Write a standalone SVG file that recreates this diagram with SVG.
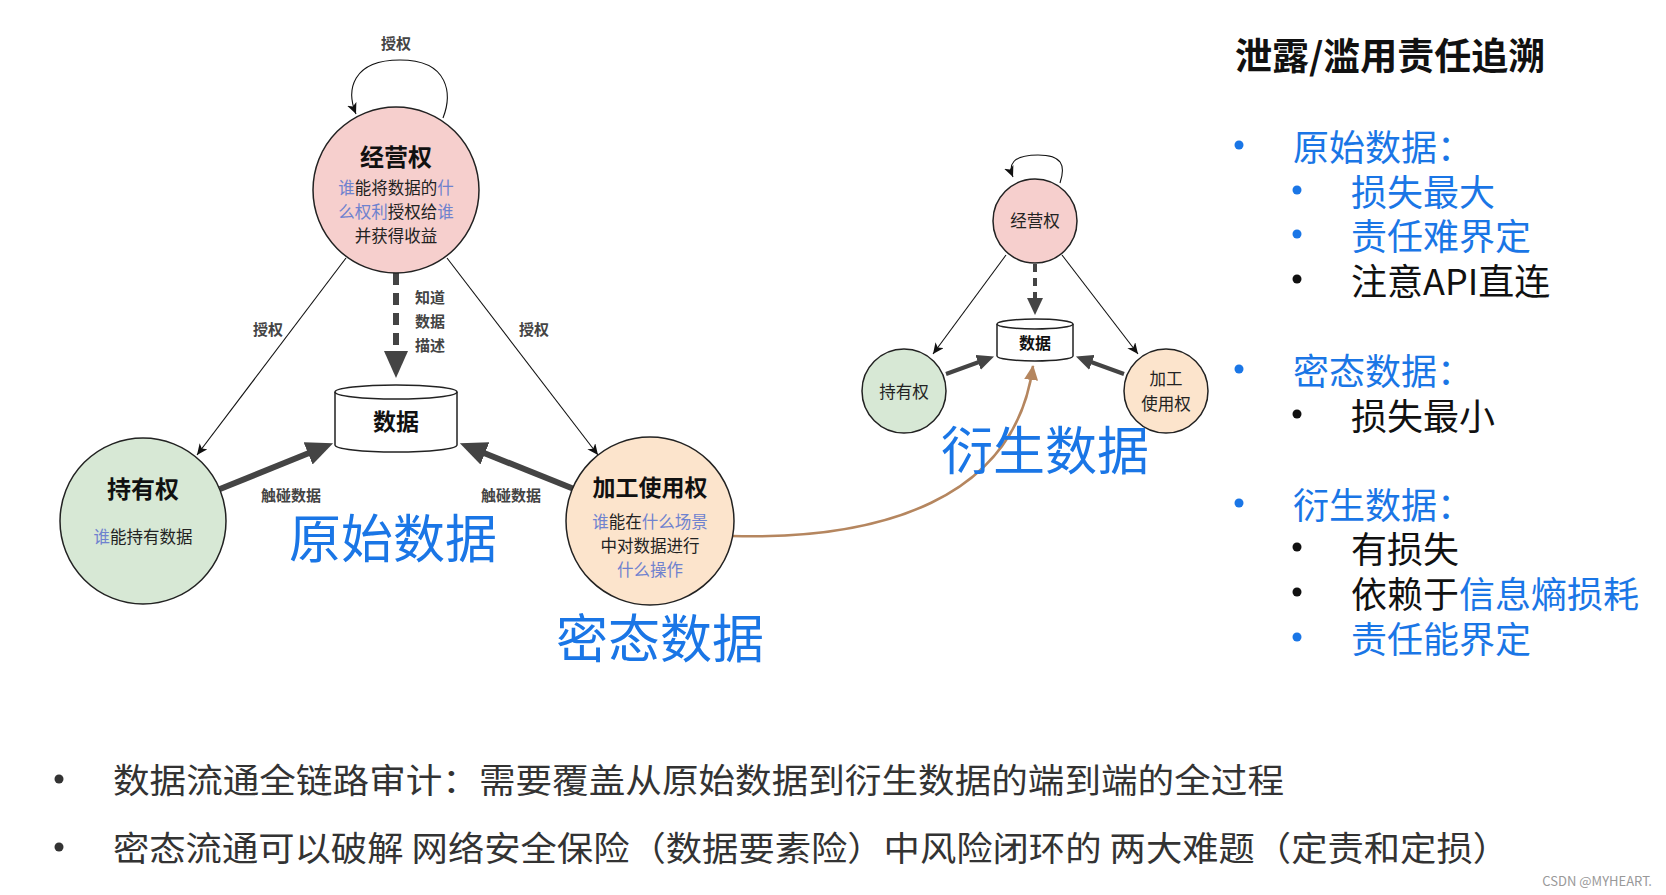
<svg xmlns="http://www.w3.org/2000/svg" width="1666" height="895" viewBox="0 0 1666 895">
<style>
text{font-family:"Noto Sans CJK SC","Noto Sans",sans-serif;}
.node{stroke:#222;stroke-width:1.5;}
.red{fill:#f6cfcd;}
.green{fill:#d7e8d5;}
.orange{fill:#fce4cc;}
.thin{fill:none;stroke:#111;stroke-width:1.1;}
.thick{fill:none;stroke:#444;stroke-width:6;}
.thickS{fill:none;stroke:#444;stroke-width:4;}
.dash{fill:none;stroke:#444;stroke-width:6;stroke-dasharray:12 8;}
.dashS{fill:none;stroke:#444;stroke-width:4;stroke-dasharray:8 6;}
.brown{fill:none;stroke:#b5865f;stroke-width:2.6;}
.elabel{font-size:15px;font-weight:700;fill:#444;text-anchor:middle;dominant-baseline:central;}
.title{font-weight:700;fill:#111;text-anchor:middle;dominant-baseline:central;}
.body{font-size:16.5px;fill:#222;text-anchor:middle;dominant-baseline:central;}
.hl{fill:#6f82cf;}
.big{font-size:52px;fill:#1a76e6;text-anchor:middle;dominant-baseline:central;}
.rp{font-size:36px;dominant-baseline:central;}
.blue{fill:#1a76e6;}
.blk{fill:#111;}
.bot{font-size:34px;fill:#333;dominant-baseline:central;}
</style>
<defs>
<marker id="mThin" markerUnits="userSpaceOnUse" markerWidth="12" markerHeight="10" refX="11" refY="5" orient="auto">
<path d="M0,0 L11,5 L0,10 L3,5 z" fill="#111"/>
</marker>
<marker id="mThick" markerUnits="userSpaceOnUse" markerWidth="28" markerHeight="24" refX="1" refY="12" orient="auto">
<path d="M0,0 L27,12 L0,24 z" fill="#444"/>
</marker>
<marker id="mThickS" markerUnits="userSpaceOnUse" markerWidth="18" markerHeight="16" refX="1" refY="8" orient="auto">
<path d="M0,0 L17,8 L0,16 z" fill="#444"/>
</marker>
<marker id="mBrown" markerUnits="userSpaceOnUse" markerWidth="16" markerHeight="14" refX="14" refY="7" orient="auto">
<path d="M0,0 L15,7 L0,14 z" fill="#b5865f"/>
</marker>
</defs>
<rect width="1666" height="895" fill="#ffffff"/>

<g id="connectors">
<path class="thin" d="M443,118 C452,95 450,60 400,60 C352,60 346,90 356,114" marker-end="url(#mThin)"/>
<text class="elabel" x="396" y="42">授权</text>
<path class="thin" d="M346,258 L197,455" marker-end="url(#mThin)"/>
<text class="elabel" x="268" y="328">授权</text>
<path class="thin" d="M447,258 L598,455" marker-end="url(#mThin)"/>
<text class="elabel" x="534" y="328">授权</text>
<path class="dash" d="M396,273 L396,352" marker-end="url(#mThick)"/>
<text class="elabel" x="430" y="296">知道</text>
<text class="elabel" x="430" y="320">数据</text>
<text class="elabel" x="430" y="344">描述</text>
<path class="thick" d="M220,489 L309,453" marker-end="url(#mThick)"/>
<text class="elabel" x="291" y="494">触碰数据</text>
<path class="thick" d="M574,489 L484,453" marker-end="url(#mThick)"/>
<text class="elabel" x="511" y="494">触碰数据</text>
<path class="brown" d="M732,536 C880,540 1015,500 1033,366" marker-end="url(#mBrown)"/>
<path class="thin" d="M1060,183 C1066,165 1062,155 1038,155 C1012,155 1008,165 1013,177" marker-end="url(#mThin)"/>
<path class="thin" d="M1006,255 L933,354" marker-end="url(#mThin)"/>
<path class="thin" d="M1062,255 L1138,354" marker-end="url(#mThin)"/>
<path class="dashS" d="M1035,264 L1035,299" marker-end="url(#mThickS)"/>
<path class="thickS" d="M946,374 L979,362" marker-end="url(#mThickS)"/>
<path class="thickS" d="M1124,374 L1091,362" marker-end="url(#mThickS)"/>
</g>

<g id="node-jingying">
<circle class="node red" cx="396" cy="190" r="83"/>
<text class="title" x="396" y="155" font-size="24">经营权</text>
<text class="body" x="396" y="187"><tspan class="hl">谁</tspan>能将数据的<tspan class="hl">什</tspan></text>
<text class="body" x="396" y="211"><tspan class="hl">么权利</tspan>授权给<tspan class="hl">谁</tspan></text>
<text class="body" x="396" y="235">并获得收益</text>
</g>

<g id="node-data">
<path class="node" fill="#fff" d="M335,392 L335,445 A61,7 0 0 0 457,445 L457,392 A61,7 0 0 0 335,392 z"/>
<path fill="none" stroke="#222" stroke-width="1.5" d="M335,392 A61,7 0 0 0 457,392"/>
<text class="title" x="396" y="420" font-size="23">数据</text>
</g>

<g id="node-chiyou">
<circle class="node green" cx="143" cy="521" r="83"/>
<text class="title" x="143" y="487" font-size="24">持有权</text>
<text class="body" x="143" y="536"><tspan class="hl">谁</tspan>能持有数据</text>
</g>

<g id="node-jiagong">
<circle class="node orange" cx="650" cy="521" r="84"/>
<text class="title" x="650" y="486" font-size="23">加工使用权</text>
<text class="body" x="650" y="521"><tspan class="hl">谁</tspan>能在<tspan class="hl">什么场景</tspan></text>
<text class="body" x="650" y="545">中对数据进行</text>
<text class="body" x="650" y="569"><tspan class="hl">什么操作</tspan></text>
</g>

<g id="label-yuanshi"><text class="big" x="393" y="535">原始数据</text></g>
<g id="label-mitai"><text class="big" x="660" y="635">密态数据</text></g>

<g id="node-s-jingying">
<circle class="node red" cx="1035" cy="221" r="42"/>
<text class="body" x="1035" y="220" font-size="16">经营权</text>
</g>
<g id="node-s-data">
<path class="node" fill="#fff" d="M997,324 L997,356 A38,5 0 0 0 1073,356 L1073,324 A38,5 0 0 0 997,324 z"/>
<path fill="none" stroke="#222" stroke-width="1.5" d="M997,324 A38,5 0 0 0 1073,324"/>
<text class="title" x="1035" y="342" font-size="16">数据</text>
</g>
<g id="node-s-chiyou">
<circle class="node green" cx="904" cy="391" r="42"/>
<text class="body" x="904" y="391" font-size="16">持有权</text>
</g>
<g id="node-s-jiagong">
<circle class="node orange" cx="1166" cy="391" r="42"/>
<text class="body" x="1166" y="378" font-size="16">加工</text>
<text class="body" x="1166" y="403" font-size="16">使用权</text>
</g>
<g id="label-yansheng"><text class="big" x="1045" y="447">衍生数据</text></g>

<g id="panel">
<text x="1235" y="54" font-size="37" font-weight="700" fill="#111" dominant-baseline="central">泄露/滥用责任追溯</text>
<circle cx="1239" cy="145" r="4.5" class="blue"/>
<circle cx="1297" cy="190" r="4.5" class="blue"/>
<circle cx="1297" cy="234" r="4.5" class="blue"/>
<circle cx="1297" cy="279" r="4.5" class="blk"/>
<circle cx="1239" cy="369" r="4.5" class="blue"/>
<circle cx="1297" cy="414" r="4.5" class="blk"/>
<circle cx="1239" cy="503" r="4.5" class="blue"/>
<circle cx="1297" cy="547" r="4.5" class="blk"/>
<circle cx="1297" cy="592" r="4.5" class="blk"/>
<circle cx="1297" cy="637" r="4.5" class="blue"/>
<text class="rp"><tspan class="blue" x="1293" y="145">原始数据：</tspan><tspan class="blue" x="1351" y="190">损失最大</tspan><tspan class="blue" x="1351" y="234">责任难界定</tspan><tspan class="blk" x="1351" y="279">注意API直连</tspan><tspan class="blue" x="1293" y="369">密态数据：</tspan><tspan class="blk" x="1351" y="414">损失最小</tspan><tspan class="blue" x="1293" y="503">衍生数据：</tspan><tspan class="blk" x="1351" y="547">有损失</tspan><tspan class="blk" x="1351" y="592">依赖于</tspan><tspan class="blue">信息熵损耗</tspan><tspan class="blue" x="1351" y="637">责任能界定</tspan></text>
</g>

<g id="bottom">
<circle cx="59" cy="779" r="4.5" fill="#333"/>
<text class="bot" x="113" y="778" textLength="1171" lengthAdjust="spacingAndGlyphs">数据流通全链路审计：需要覆盖从原始数据到衍生数据的端到端的全过程</text>
<circle cx="59" cy="847" r="4.5" fill="#333"/>
<text class="bot" x="113" y="846" textLength="1396" lengthAdjust="spacingAndGlyphs">密态流通可以破解 网络安全保险（数据要素险）中风险闭环的 两大难题（定责和定损）</text>
<text x="1652" y="880" font-size="13" fill="#999" text-anchor="end" font-family="Liberation Sans, sans-serif" dominant-baseline="central">CSDN @MYHEART.</text>
</g>
</svg>
